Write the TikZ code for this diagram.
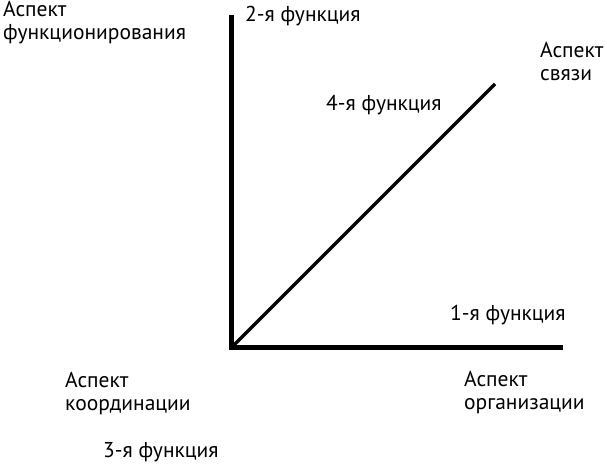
\documentclass[tikz,border=0pt]{standalone}
\usepackage{fontspec}
\setmainfont{PT Sans}

\tikzset{
  axis/.style={line width=5.5pt},
  label/.style={anchor=base west, inner sep=0pt, align=left, font=\fontsize{21.5}{23}\selectfont},
}

\begin{document}
\begin{tikzpicture}[x=1pt, y=-1pt]
  \useasboundingbox (0,0) rectangle (607,464);
  \coordinate (O) at (231.5,347.5);
  \coordinate (ytop) at (231.5,15);
  \coordinate (xend) at (562.5,347.5);
  \coordinate (dend) at (495,84);

  \draw[axis] (ytop) -- (231.5,350.25);
  \draw[axis] (228.75,347.5) -- (xend);
  \draw[line width=3.5pt] (O) -- (dend);

  % two-line labels sit on the baseline of their last line
  \node[label] (funk) at (3,39) {Аспект\\функционирования};
  \node[label] (f2) at (245,21) {2-я функция};
  \node[label] (sv) at (540,80) {Аспект\\связи};
  \node[label] (f4) at (326,110) {4-я функция};
  \node[label] (f1) at (450,320) {1-я функция};
  \node[label] (koord) at (65,410) {Аспект\\координации};
  \node[label] (org) at (464,409) {Аспект\\организации};
  \node[label] (f3) at (103,457) {3-я функция};
\end{tikzpicture}
\end{document}
